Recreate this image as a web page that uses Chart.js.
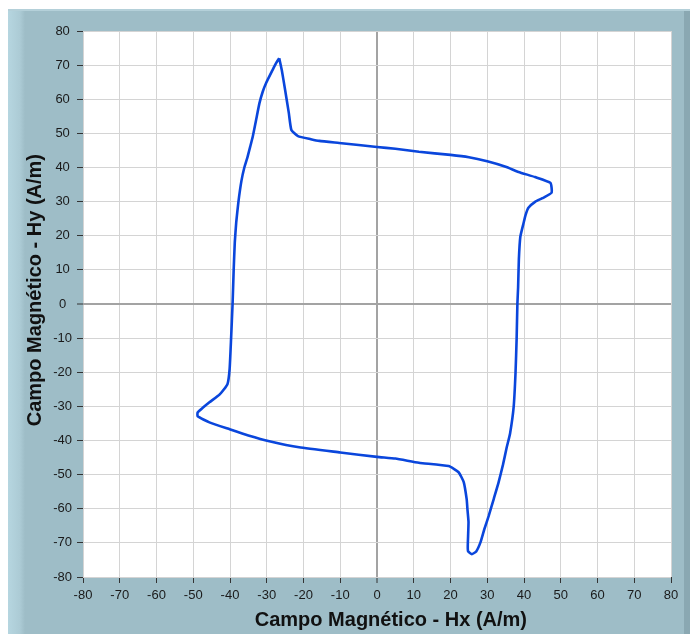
<!DOCTYPE html>
<html>
<head>
<meta charset="utf-8">
<script src="https://cdn.jsdelivr.net/npm/chart.js@4/dist/chart.umd.min.js"></script>
<style>
  html, body { margin: 0; padding: 0; background: #fff; }
  canvas { display: block; }
</style>
</head>
<body>
<canvas id="lazo" width="693" height="634"></canvas>
<script>
// --- datos (Hx, Hy en A/m), en orden de recorrido ---
const hx = [
  -26.6, -25.9, -25.0, -24.0, -23.3, -21.5, -18.0, -15.7, -10.3, -5.0,
  0.0, 5.0, 11.4, 20.0, 25.0, 30.0, 35.0, 38.5, 43.0, 47.2,
  47.5, 45.0, 43.1, 41.2, 40.4, 39.9, 39.0, 38.6, 38.4, 38.2,
  38.0, 37.7, 37.2, 36.2, 35.3, 34.3, 33.1, 31.8, 30.4, 29.2,
  28.2, 27.0, 25.8, 24.8, 24.7, 24.9, 24.6, 24.4, 23.6, 22.2,
  19.5, 11.4, 5.0, 0.0, -10.0, -21.2, -29.3, -35.0, -40.1, -45.6,
  -48.8, -48.8, -47.5, -45.6, -42.8, -40.7, -40.1, -39.7, -39.3, -39.0,
  -38.7, -38.3, -37.7, -36.9, -36.1, -35.2, -34.5, -33.8, -32.9, -32.0,
  -31.1, -30.2, -28.4, -27.5, -26.6
];
const hy = [
  72.0, 68.5, 62.7, 56.0, 51.0, 49.2, 48.3, 47.8, 47.2, 46.6,
  46.0, 45.5, 44.6, 43.7, 43.0, 41.8, 40.2, 38.7, 37.2, 35.5,
  32.6, 31.0, 30.0, 28.2, 26.0, 23.8, 19.7, 13.0, 5.0, 0.0,
  -10.0, -20.0, -30.0, -38.0, -42.0, -47.0, -52.2, -57.0, -62.1, -66.0,
  -69.7, -72.5, -73.3, -72.5, -70.9, -63.9, -60.0, -57.2, -52.2, -49.3,
  -47.5, -46.5, -45.3, -44.8, -43.5, -42.0, -40.2, -38.5, -36.7, -34.7,
  -32.9, -31.8, -30.5, -28.8, -26.5, -23.5, -19.0, -10.0, 0.0, 10.0,
  18.0, 24.0, 30.0, 36.0, 40.0, 43.2, 46.1, 49.1, 53.9, 58.8,
  62.2, 64.7, 68.6, 70.5, 72.0
];
const ejeMin = -80;
const ejeMax = 80;
const paso = 10;

const puntos = hx.map((x, i) => ({ x: x, y: hy[i] }));

// fondo del panel estilo LabVIEW
const panelPlugin = {
  id: 'panel',
  beforeDraw(chart) {
    const { ctx, chartArea: a } = chart;
    ctx.save();
    ctx.fillStyle = '#ffffff';
    ctx.fillRect(0, 0, chart.width, chart.height);
    ctx.fillStyle = '#9ebdc7';
    ctx.fillRect(8, 9, 682, 625);
    const g = ctx.createLinearGradient(8, 0, 25, 0);
    g.addColorStop(0, '#b6d6e0');
    g.addColorStop(0.7, '#accbd5');
    g.addColorStop(1, '#9ebdc7');
    ctx.fillStyle = g;
    ctx.fillRect(8, 9, 17, 625);
    ctx.fillStyle = '#8aa8b2';
    ctx.fillRect(684, 9, 6, 625);
    ctx.fillStyle = '#b4d0d9';
    ctx.fillRect(8, 9, 682, 2);
    ctx.fillStyle = '#ffffff';
    ctx.fillRect(a.left, a.top, a.right - a.left, a.bottom - a.top);
    ctx.restore();
  }
};

const colorGrid = ctx => (ctx.tick && ctx.tick.value === 0) ? '#a3a3a3' : '#d4d4d4';
const anchoGrid = ctx => (ctx.tick && ctx.tick.value === 0) ? 2 : 1;
const fuenteTicks = { family: 'Liberation Sans, Arial, sans-serif', size: 13 };
const fuenteTitulo = { family: 'Liberation Sans, Arial, sans-serif', size: 20, weight: 'bold' };

new Chart(document.getElementById('lazo'), {
  type: 'scatter',
  data: {
    datasets: [{
      data: puntos,
      showLine: true,
      borderColor: '#0a46dc',
      borderWidth: 2.6,
      pointRadius: 0,
      tension: 0.15,
      fill: false
    }]
  },
  options: {
    responsive: false,
    animation: false,
    layout: { padding: { left: 0, top: 31, right: 22, bottom: 0 } },
    plugins: { legend: { display: false }, tooltip: { enabled: false } },
    scales: {
      x: {
        type: 'linear',
        min: ejeMin, max: ejeMax,
        afterFit: s => { s.height = 57; },
        border: { display: false },
        grid: { color: colorGrid, lineWidth: anchoGrid, tickColor: '#333', tickLength: 6, tickWidth: 1 },
        ticks: { stepSize: paso, autoSkip: false, maxRotation: 0, color: '#1a1a1a', font: fuenteTicks, padding: 5 },
        title: { display: true, text: '     Campo Magnético - Hx (A/m)', color: '#111', font: fuenteTitulo, padding: { top: 0, bottom: 2 } }
      },
      y: {
        type: 'linear',
        min: ejeMin, max: ejeMax,
        afterFit: s => { s.width = 83; },
        border: { display: false },
        grid: { color: colorGrid, lineWidth: anchoGrid, tickColor: '#333', tickLength: 6, tickWidth: 1 },
        ticks: { stepSize: paso, autoSkip: false, color: '#1a1a1a', font: fuenteTicks, padding: 5, crossAlign: 'center' },
        title: { display: true, text: '     Campo Magnético - Hy (A/m)', color: '#111', font: fuenteTitulo, padding: { top: 23, bottom: 0 } }
      }
    }
  },
  plugins: [panelPlugin]
});
</script>
</body>
</html>
